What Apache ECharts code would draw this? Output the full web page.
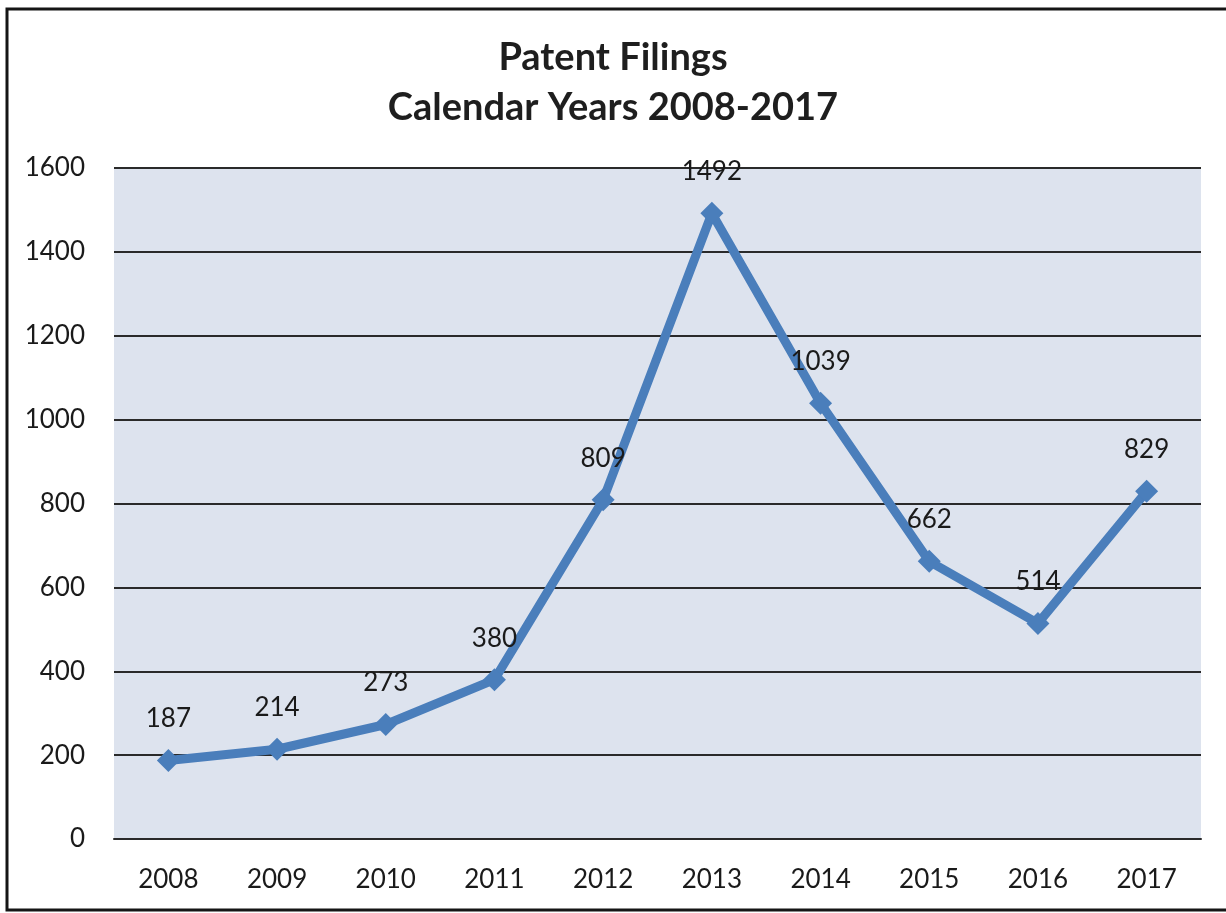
<!DOCTYPE html>
<html>
<head>
<meta charset="utf-8">
<title>Patent Filings</title>
<script src="https://cdn.jsdelivr.net/npm/echarts@6/dist/echarts.min.js"></script>
<style>
  html, body { margin: 0; padding: 0; background: #ffffff; overflow: hidden; }
  #chart { width: 1226px; height: 913px; }
</style>
</head>
<body>
<div id="chart"></div>
<script>
// Calendar years and yearly patent filings
const years = ['2008', '2009', '2010', '2011', '2012', '2013', '2014', '2015', '2016', '2017'];
const filings = [187, 214, 273, 380, 809, 1492, 1039, 662, 514, 829];
const titleLines = ['Patent Filings', 'Calendar Years 2008-2017'];

const chart = echarts.init(document.getElementById('chart'), null, { renderer: 'canvas' });
const font = 'Lato, "Open Sans", "DejaVu Sans", sans-serif';

chart.setOption({
  backgroundColor: '#ffffff',
  animation: false,
  graphic: [
    {
      // frame: top, left and bottom edges (the right edge lies outside the page)
      type: 'polyline',
      shape: { points: [[1300, 9], [7, 9], [7, 910], [1300, 910]] },
      style: { fill: 'none', stroke: '#151515', lineWidth: 3 },
      z: 10
    }
  ],
  title: {
    text: titleLines.join('\n'),
    left: 'center',
    top: 28,
    textStyle: {
      fontFamily: font,
      fontSize: 38,
      fontWeight: 'bold',
      color: '#1e1e1e',
      lineHeight: 50
    }
  },
  grid: {
    left: 114,
    right: 25,
    top: 168,
    bottom: 74,
    show: true,
    backgroundColor: '#dde3ee',
    borderWidth: 0
  },
  xAxis: {
    type: 'category',
    data: years,
    boundaryGap: true,
    axisLine: { show: true, lineStyle: { color: '#2a2a2a', width: 2 } },
    axisTick: { show: false },
    axisLabel: {
      fontFamily: font,
      fontSize: 26,
      color: '#1a1a1a',
      margin: 28
    }
  },
  yAxis: {
    type: 'value',
    min: 0,
    max: 1600,
    interval: 200,
    axisLine: { show: false },
    axisTick: { show: false },
    axisLabel: {
      fontFamily: font,
      fontSize: 26,
      color: '#1a1a1a',
      margin: 29,
      formatter: (v) => String(v)
    },
    splitLine: { show: true, lineStyle: { color: '#2a2a2a', width: 2 } }
  },
  series: [
    {
      type: 'line',
      data: filings,
      symbol: 'diamond',
      symbolSize: 23,
      lineStyle: { color: '#4a7ebb', width: 9 },
      itemStyle: { color: '#4a7ebb' },
      label: {
        show: true,
        position: 'top',
        distance: 17,
        fontFamily: font,
        fontSize: 26,
        color: '#1a1a1a'
      },
      z: 5
    }
  ]
});
</script>
</body>
</html>
